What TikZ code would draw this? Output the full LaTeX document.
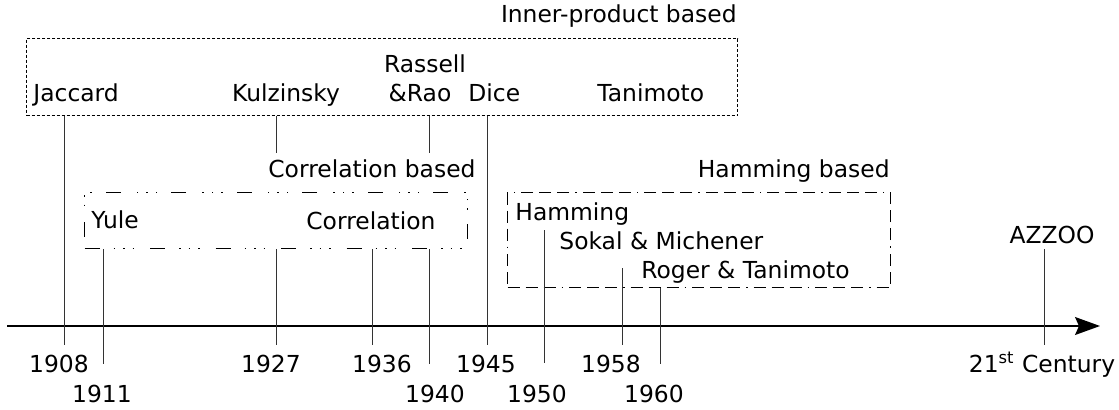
\documentclass[tikz,border=0pt]{standalone}
\usepackage{fontspec}
\setmainfont{DejaVu Sans}
\usetikzlibrary{arrows.meta}
\begin{document}
\begin{tikzpicture}[x=0.5pt,y=-0.5pt,
  lbl/.style={font=\fontsize{11.7}{14}\selectfont, inner sep=0pt},
  tickline/.style={line width=0.5pt, black!80},
  ipboxstyle/.style={draw, line width=0.5pt, inner sep=0pt, dash pattern=on 1.5pt off 1pt},
  cbboxstyle/.style={draw, line width=0.5pt, inner sep=0pt, dash pattern=on 7.5pt off 7pt on 0.75pt off 4pt on 0.75pt off 4pt on 0.75pt off 8pt},
  hbboxstyle/.style={draw, line width=0.5pt, inner sep=0pt, dash pattern=on 6pt off 3pt on 6pt off 3pt on 6pt off 3pt on 0.75pt off 3pt},
  axisline/.style={line width=0.7pt, -{Stealth[length=12.5pt,width=9pt,inset=2pt]}}
]
\useasboundingbox (0,0) rectangle (1119,409);

% group boxes
\node[ipboxstyle, anchor=north west, minimum width=355.5pt, minimum height=38.5pt] (ipb) at (26,38) {};
\node[cbboxstyle, anchor=north west, minimum width=191.5pt, minimum height=28pt] (cbb) at (84,192) {};
\node[hbboxstyle, anchor=north west, minimum width=191.5pt, minimum height=47.5pt] (hbb) at (507,192) {};

% group titles
\node[lbl, anchor=base east] (ipl) at (737,22) {Inner-product based};
\node[lbl, anchor=base west] (cbl) at (268,177) {Correlation based};
\node[lbl, anchor=base east] (hbl) at (890,177) {Hamming based};

% methods
\node[lbl, anchor=base west] (jac) at (33,101) {Jaccard};
\node[lbl, anchor=base] (kul) at (286,101) {Kulzinsky};
\node[lbl, anchor=base] (ras) at (425,72) {Rassell};
\node[lbl, anchor=base] (rao) at (420,101) {\&Rao};
\node[lbl, anchor=base west] (dic) at (468,101) {Dice};
\node[lbl, anchor=base west] (tan) at (597,101) {Tanimoto};
\node[lbl, anchor=base west] (yul) at (91,228) {Yule};
\node[lbl, anchor=base west] (cor) at (306,229) {Correlation};
\node[lbl, anchor=base west] (ham) at (515,220) {Hamming};
\node[lbl, anchor=base west] (sok) at (559,249) {Sokal \& Michener};
\node[lbl, anchor=base west] (rog) at (641,278) {Roger \& Tanimoto};
\node[lbl, anchor=base] (azz) at (1052,243) {AZZOO};

% years
\node[lbl, anchor=base] (y1908) at (59,372) {1908};
\node[lbl, anchor=base] (y1911) at (102,402) {1911};
\node[lbl, anchor=base] (y1927) at (271,372) {1927};
\node[lbl, anchor=base] (y1936) at (382,372) {1936};
\node[lbl, anchor=base] (y1940) at (435,402) {1940};
\node[lbl, anchor=base] (y1945) at (486,372) {1945};
\node[lbl, anchor=base] (y1950) at (537,402) {1950};
\node[lbl, anchor=base] (y1958) at (611,372) {1958};
\node[lbl, anchor=base] (y1960) at (654,402) {1960};
\node[lbl, anchor=base] (y21) at (1042,372) {21\textsuperscript{st} Century};

% axis
\coordinate (axs) at (7,326);
\coordinate (axe) at (1100,326);
\draw[axisline] (axs) -- (axe);

% tick ends
\coordinate (e1908) at (64,345);
\coordinate (e1911) at (103,364);
\coordinate (k1927) at (276,153);
\coordinate (e1927) at (276,345);
\coordinate (e1936) at (372,345);
\coordinate (r1940) at (429,153);
\coordinate (e1940) at (429,364);
\coordinate (e1945) at (487,345);
\coordinate (s1950) at (544,230);
\coordinate (e1950) at (544,363);
\coordinate (s1958) at (622,268);
\coordinate (e1958) at (622,345);
\coordinate (e1960) at (660,364);
\coordinate (s21) at (1044,249);
\coordinate (e21) at (1044,345);

% connectors
\draw[tickline] (ipb.south -| e1908) -- (e1908);
\draw[tickline] (cbb.south -| e1911) -- (e1911);
\draw[tickline] (ipb.south -| k1927) -- (k1927);
\draw[tickline] (cbb.south -| e1927) -- (e1927);
\draw[tickline] (cbb.south -| e1936) -- (e1936);
\draw[tickline] (ipb.south -| r1940) -- (r1940);
\draw[tickline] (cbb.south -| e1940) -- (e1940);
\draw[tickline] (ipb.south -| e1945) -- (e1945);
\draw[tickline] (s1950) -- (e1950);
\draw[tickline] (s1958) -- (e1958);
\draw[tickline] (hbb.south -| e1960) -- (e1960);
\draw[tickline] (s21) -- (e21);
\end{tikzpicture}
\end{document}
